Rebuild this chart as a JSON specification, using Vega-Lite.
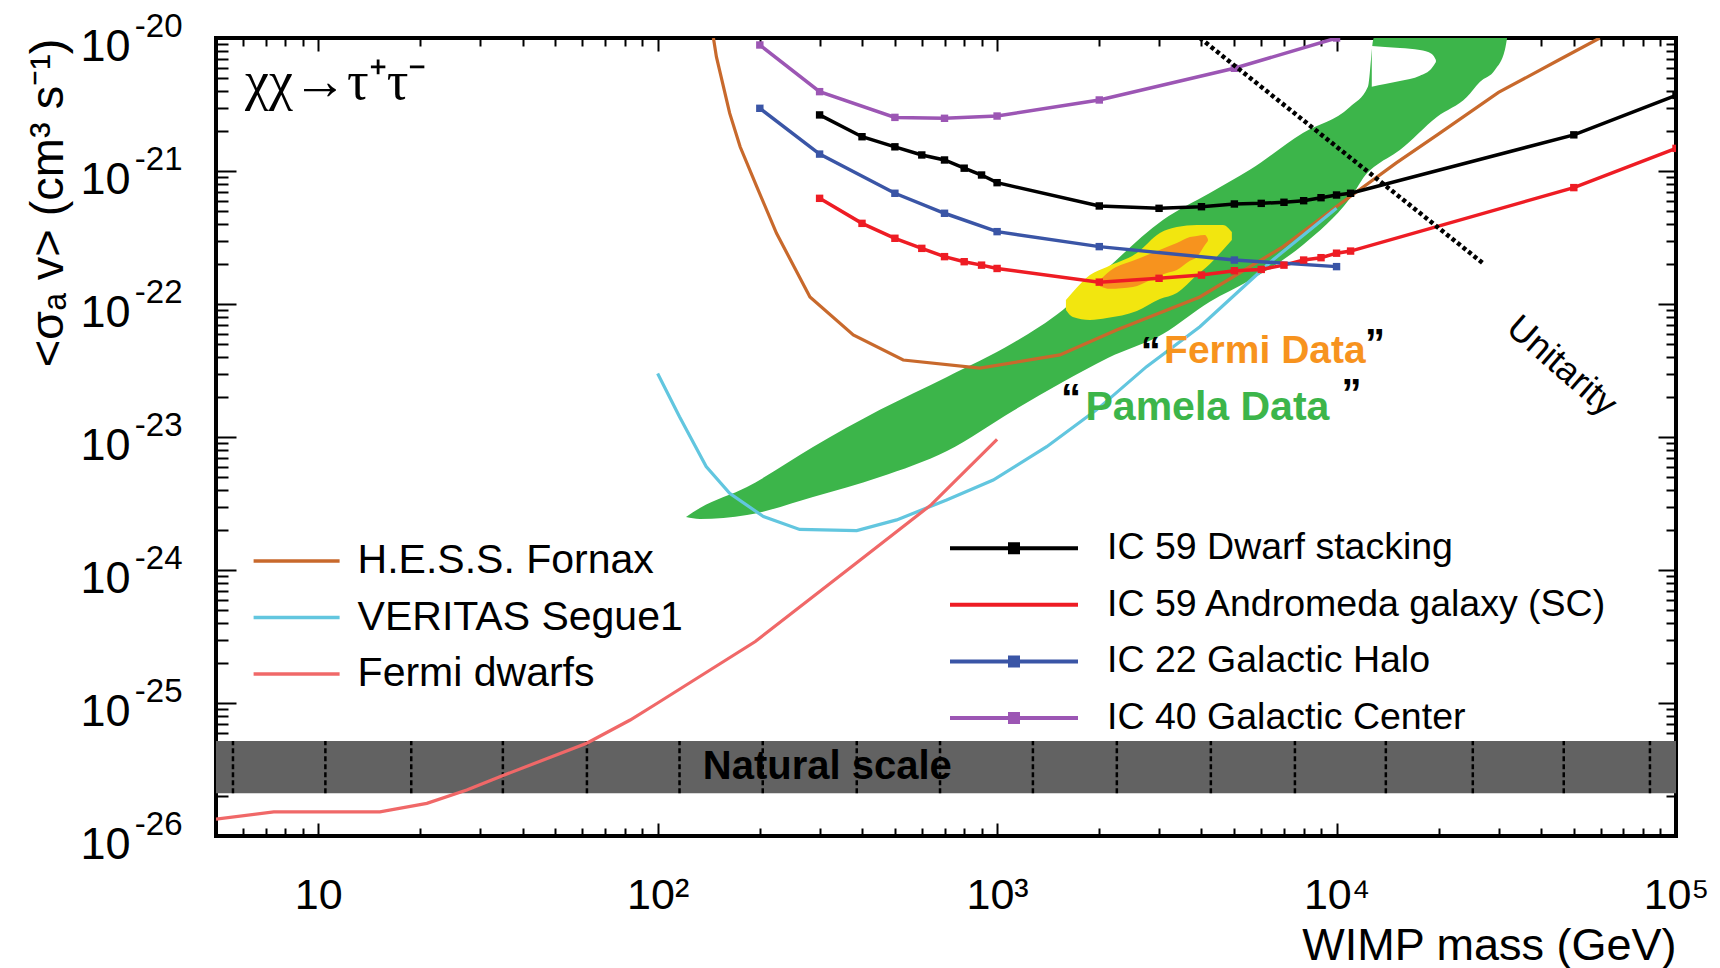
{
  "$schema": "https://vega.github.io/schema/vega-lite/v6.json",
  "width": 1460,
  "height": 798,
  "autosize": {"type": "none"},
  "padding": {"left": 216, "top": 38, "right": 44, "bottom": 132},
  "background": "white",
  "config": {
    "font": "Liberation Sans",
    "view": {"stroke": "black", "strokeWidth": 4},
    "axis": {"grid": false, "domain": false, "labelFont": "Liberation Sans", "titleFont": "Liberation Sans", "labelColor": "black", "titleColor": "black", "tickColor": "black", "tickWidth": 2, "labelOverlap": false, "labelFlush": false, "labelBound": false},
    "legend": {"labelFont": "Liberation Sans", "labelColor": "black"}
  },
  "datasets": {
    "gamma": [
      {"s": "H.E.S.S. Fornax", "m": 146, "v": 1e-20},
      {"s": "H.E.S.S. Fornax", "m": 149, "v": 7.2e-21},
      {"s": "H.E.S.S. Fornax", "m": 163, "v": 2.72e-21},
      {"s": "H.E.S.S. Fornax", "m": 175, "v": 1.52e-21},
      {"s": "H.E.S.S. Fornax", "m": 196, "v": 7.6e-22},
      {"s": "H.E.S.S. Fornax", "m": 224, "v": 3.4e-22},
      {"s": "H.E.S.S. Fornax", "m": 281, "v": 1.13e-22},
      {"s": "H.E.S.S. Fornax", "m": 377, "v": 5.85e-23},
      {"s": "H.E.S.S. Fornax", "m": 529, "v": 3.79e-23},
      {"s": "H.E.S.S. Fornax", "m": 890, "v": 3.3e-23},
      {"s": "H.E.S.S. Fornax", "m": 1531, "v": 4.14e-23},
      {"s": "H.E.S.S. Fornax", "m": 2249, "v": 6.38e-23},
      {"s": "H.E.S.S. Fornax", "m": 3958, "v": 1.13e-22},
      {"s": "H.E.S.S. Fornax", "m": 6963, "v": 2.7e-22},
      {"s": "H.E.S.S. Fornax", "m": 10000, "v": 5.4e-22},
      {"s": "H.E.S.S. Fornax", "m": 15000, "v": 1.15e-21},
      {"s": "H.E.S.S. Fornax", "m": 20000, "v": 1.9e-21},
      {"s": "H.E.S.S. Fornax", "m": 30000, "v": 3.9e-21},
      {"s": "H.E.S.S. Fornax", "m": 45000, "v": 6.8e-21},
      {"s": "H.E.S.S. Fornax", "m": 59630, "v": 1e-20},
      {"s": "VERITAS Segue1", "m": 100, "v": 3.0e-23},
      {"s": "VERITAS Segue1", "m": 116, "v": 1.42e-23},
      {"s": "VERITAS Segue1", "m": 139, "v": 6.0e-24},
      {"s": "VERITAS Segue1", "m": 163, "v": 3.77e-24},
      {"s": "VERITAS Segue1", "m": 205, "v": 2.52e-24},
      {"s": "VERITAS Segue1", "m": 262, "v": 2.02e-24},
      {"s": "VERITAS Segue1", "m": 386, "v": 1.98e-24},
      {"s": "VERITAS Segue1", "m": 506, "v": 2.38e-24},
      {"s": "VERITAS Segue1", "m": 710, "v": 3.36e-24},
      {"s": "VERITAS Segue1", "m": 974, "v": 4.75e-24},
      {"s": "VERITAS Segue1", "m": 1400, "v": 8.45e-24},
      {"s": "VERITAS Segue1", "m": 1964, "v": 1.6e-23},
      {"s": "VERITAS Segue1", "m": 2756, "v": 3.38e-23},
      {"s": "VERITAS Segue1", "m": 3958, "v": 6.75e-23},
      {"s": "VERITAS Segue1", "m": 6500, "v": 2.15e-22},
      {"s": "VERITAS Segue1", "m": 10000, "v": 5.24e-22},
      {"s": "Fermi dwarfs", "m": 5, "v": 1.34e-26},
      {"s": "Fermi dwarfs", "m": 7.4, "v": 1.52e-26},
      {"s": "Fermi dwarfs", "m": 15.2, "v": 1.52e-26},
      {"s": "Fermi dwarfs", "m": 20.9, "v": 1.76e-26},
      {"s": "Fermi dwarfs", "m": 27.4, "v": 2.22e-26},
      {"s": "Fermi dwarfs", "m": 34.3, "v": 2.79e-26},
      {"s": "Fermi dwarfs", "m": 61.8, "v": 4.98e-26},
      {"s": "Fermi dwarfs", "m": 83, "v": 7.45e-26},
      {"s": "Fermi dwarfs", "m": 100, "v": 1.0e-25},
      {"s": "Fermi dwarfs", "m": 194, "v": 2.9e-25},
      {"s": "Fermi dwarfs", "m": 380, "v": 1.1e-24},
      {"s": "Fermi dwarfs", "m": 640, "v": 3.1e-24},
      {"s": "Fermi dwarfs", "m": 1000, "v": 9.6e-24}
    ],
    "ic": [
      {"s": "IC 59 Dwarf stacking", "m": 300, "v": 2.64e-21},
      {"s": "IC 59 Dwarf stacking", "m": 400, "v": 1.81e-21},
      {"s": "IC 59 Dwarf stacking", "m": 500, "v": 1.52e-21},
      {"s": "IC 59 Dwarf stacking", "m": 600, "v": 1.32e-21},
      {"s": "IC 59 Dwarf stacking", "m": 700, "v": 1.21e-21},
      {"s": "IC 59 Dwarf stacking", "m": 800, "v": 1.05e-21},
      {"s": "IC 59 Dwarf stacking", "m": 900, "v": 9.33e-22},
      {"s": "IC 59 Dwarf stacking", "m": 1000, "v": 8.17e-22},
      {"s": "IC 59 Dwarf stacking", "m": 2000, "v": 5.46e-22},
      {"s": "IC 59 Dwarf stacking", "m": 3000, "v": 5.24e-22},
      {"s": "IC 59 Dwarf stacking", "m": 4000, "v": 5.39e-22},
      {"s": "IC 59 Dwarf stacking", "m": 5000, "v": 5.65e-22},
      {"s": "IC 59 Dwarf stacking", "m": 6000, "v": 5.71e-22},
      {"s": "IC 59 Dwarf stacking", "m": 7000, "v": 5.82e-22},
      {"s": "IC 59 Dwarf stacking", "m": 8000, "v": 5.98e-22},
      {"s": "IC 59 Dwarf stacking", "m": 9000, "v": 6.3e-22},
      {"s": "IC 59 Dwarf stacking", "m": 10000, "v": 6.6e-22},
      {"s": "IC 59 Dwarf stacking", "m": 11000, "v": 6.8e-22},
      {"s": "IC 59 Dwarf stacking", "m": 50000, "v": 1.87e-21},
      {"s": "IC 59 Dwarf stacking", "m": 100000, "v": 3.7e-21},
      {"s": "IC 59 Andromeda galaxy (SC)", "m": 300, "v": 6.23e-22},
      {"s": "IC 59 Andromeda galaxy (SC)", "m": 400, "v": 4.04e-22},
      {"s": "IC 59 Andromeda galaxy (SC)", "m": 500, "v": 3.12e-22},
      {"s": "IC 59 Andromeda galaxy (SC)", "m": 600, "v": 2.62e-22},
      {"s": "IC 59 Andromeda galaxy (SC)", "m": 700, "v": 2.27e-22},
      {"s": "IC 59 Andromeda galaxy (SC)", "m": 800, "v": 2.08e-22},
      {"s": "IC 59 Andromeda galaxy (SC)", "m": 900, "v": 1.96e-22},
      {"s": "IC 59 Andromeda galaxy (SC)", "m": 1000, "v": 1.85e-22},
      {"s": "IC 59 Andromeda galaxy (SC)", "m": 2000, "v": 1.46e-22},
      {"s": "IC 59 Andromeda galaxy (SC)", "m": 3000, "v": 1.56e-22},
      {"s": "IC 59 Andromeda galaxy (SC)", "m": 4000, "v": 1.65e-22},
      {"s": "IC 59 Andromeda galaxy (SC)", "m": 5000, "v": 1.78e-22},
      {"s": "IC 59 Andromeda galaxy (SC)", "m": 6000, "v": 1.82e-22},
      {"s": "IC 59 Andromeda galaxy (SC)", "m": 7000, "v": 1.96e-22},
      {"s": "IC 59 Andromeda galaxy (SC)", "m": 8000, "v": 2.14e-22},
      {"s": "IC 59 Andromeda galaxy (SC)", "m": 9000, "v": 2.23e-22},
      {"s": "IC 59 Andromeda galaxy (SC)", "m": 10000, "v": 2.41e-22},
      {"s": "IC 59 Andromeda galaxy (SC)", "m": 11000, "v": 2.5e-22},
      {"s": "IC 59 Andromeda galaxy (SC)", "m": 50000, "v": 7.5e-22},
      {"s": "IC 59 Andromeda galaxy (SC)", "m": 100000, "v": 1.48e-21},
      {"s": "IC 22 Galactic Halo", "m": 200, "v": 2.96e-21},
      {"s": "IC 22 Galactic Halo", "m": 300, "v": 1.34e-21},
      {"s": "IC 22 Galactic Halo", "m": 500, "v": 6.8e-22},
      {"s": "IC 22 Galactic Halo", "m": 700, "v": 4.81e-22},
      {"s": "IC 22 Galactic Halo", "m": 1000, "v": 3.5e-22},
      {"s": "IC 22 Galactic Halo", "m": 2000, "v": 2.7e-22},
      {"s": "IC 22 Galactic Halo", "m": 5000, "v": 2.14e-22},
      {"s": "IC 22 Galactic Halo", "m": 10000, "v": 1.91e-22},
      {"s": "IC 40 Galactic Center", "m": 200, "v": 8.86e-21},
      {"s": "IC 40 Galactic Center", "m": 300, "v": 3.95e-21},
      {"s": "IC 40 Galactic Center", "m": 500, "v": 2.53e-21},
      {"s": "IC 40 Galactic Center", "m": 700, "v": 2.49e-21},
      {"s": "IC 40 Galactic Center", "m": 1000, "v": 2.59e-21},
      {"s": "IC 40 Galactic Center", "m": 2000, "v": 3.42e-21},
      {"s": "IC 40 Galactic Center", "m": 5000, "v": 5.92e-21},
      {"s": "IC 40 Galactic Center", "m": 10000, "v": 1e-20}
    ],
    "regions": [
      {"r": "Pamela", "m": 121.2, "v": 2.5e-24, "v2": 2.5e-24},
      {"r": "Pamela", "m": 133.2, "v": 2.42e-24, "v2": 2.92e-24},
      {"r": "Pamela", "m": 183.3, "v": 2.59e-24, "v2": 4.21e-24},
      {"r": "Pamela", "m": 286.8, "v": 3.54e-24, "v2": 8.41e-24},
      {"r": "Pamela", "m": 451.6, "v": 5.0e-24, "v2": 1.6e-23},
      {"r": "Pamela", "m": 711.7, "v": 7.85e-24, "v2": 2.83e-23},
      {"r": "Pamela", "m": 1113, "v": 1.57e-23, "v2": 5.09e-23},
      {"r": "Pamela", "m": 1562, "v": 2.59e-23, "v2": 9.02e-23},
      {"r": "Pamela", "m": 2120, "v": 3.93e-23, "v2": 1.87e-22},
      {"r": "Pamela", "m": 3079, "v": 5.95e-23, "v2": 4.28e-22},
      {"r": "Pamela", "m": 4234, "v": 1.04e-22, "v2": 6.84e-22},
      {"r": "Pamela", "m": 5553, "v": 1.51e-22, "v2": 1.02e-21},
      {"r": "Pamela", "m": 7958, "v": 2.78e-22, "v2": 1.93e-21},
      {"r": "Pamela", "m": 10944, "v": 6.2e-22, "v2": 3.03e-21},
      {"r": "Pamela", "m": 12370, "v": 9.8e-22, "v2": 4.3e-21},
      {"r": "Pamela", "m": 12880, "v": 1.07e-21, "v2": 1e-20},
      {"r": "Pamela", "m": 15366, "v": 1.44e-21, "v2": 1e-20},
      {"r": "Pamela", "m": 19750, "v": 2.55e-21, "v2": 1e-20},
      {"r": "Pamela", "m": 24200, "v": 3.6e-21, "v2": 1e-20},
      {"r": "Pamela", "m": 26430, "v": 4.67e-21, "v2": 1e-20},
      {"r": "Pamela", "m": 29270, "v": 5.75e-21, "v2": 1e-20},
      {"r": "Pamela", "m": 31320, "v": 8.12e-21, "v2": 1e-20},
      {"r": "Pamela", "m": 31800, "v": 1e-20, "v2": 1e-20},
      {"r": "notch", "m": 12700, "v": 4.3e-21, "v2": 8.7e-21},
      {"r": "notch", "m": 13900, "v": 4.5e-21, "v2": 8.56e-21},
      {"r": "notch", "m": 15370, "v": 4.75e-21, "v2": 8.41e-21},
      {"r": "notch", "m": 17600, "v": 5.2e-21, "v2": 8.12e-21},
      {"r": "notch", "m": 19090, "v": 5.95e-21, "v2": 7.58e-21},
      {"r": "notch", "m": 19620, "v": 6.6e-21, "v2": 6.84e-21},
      {"r": "FermiOuter", "m": 1595, "v": 9.02e-23, "v2": 1.07e-22},
      {"r": "FermiOuter", "m": 1672, "v": 7.98e-23, "v2": 1.23e-22},
      {"r": "FermiOuter", "m": 1877, "v": 7.58e-23, "v2": 1.65e-22},
      {"r": "FermiOuter", "m": 2106, "v": 7.85e-23, "v2": 1.9e-22},
      {"r": "FermiOuter", "m": 2581, "v": 8.86e-23, "v2": 2.42e-22},
      {"r": "FermiOuter", "m": 3017, "v": 1.09e-22, "v2": 3.42e-22},
      {"r": "FermiOuter", "m": 3384, "v": 1.21e-22, "v2": 3.79e-22},
      {"r": "FermiOuter", "m": 3878, "v": 1.65e-22, "v2": 3.93e-22},
      {"r": "FermiOuter", "m": 4234, "v": 2.0e-22, "v2": 3.93e-22},
      {"r": "FermiOuter", "m": 4627, "v": 2.55e-22, "v2": 3.93e-22},
      {"r": "FermiOuter", "m": 4916, "v": 3.03e-22, "v2": 3.48e-22},
      {"r": "FermiInner", "m": 2009, "v": 1.36e-22, "v2": 1.51e-22},
      {"r": "FermiInner", "m": 2149, "v": 1.3e-22, "v2": 1.77e-22},
      {"r": "FermiInner", "m": 2512, "v": 1.34e-22, "v2": 2.11e-22},
      {"r": "FermiInner", "m": 2819, "v": 1.51e-22, "v2": 2.38e-22},
      {"r": "FermiInner", "m": 3164, "v": 1.71e-22, "v2": 2.68e-22},
      {"r": "FermiInner", "m": 3384, "v": 1.8e-22, "v2": 2.87e-22},
      {"r": "FermiInner", "m": 3698, "v": 2.11e-22, "v2": 3.19e-22},
      {"r": "FermiInner", "m": 3878, "v": 2.26e-22, "v2": 3.25e-22},
      {"r": "FermiInner", "m": 4094, "v": 2.78e-22, "v2": 3.3e-22},
      {"r": "FermiInner", "m": 4178, "v": 2.98e-22, "v2": 3.08e-22}
    ],
    "natural": [
      {"m": 5, "v": 2.1e-26, "v2": 5.18e-26},
      {"m": 100000, "v": 2.1e-26, "v2": 5.18e-26}
    ],
    "hatch": [
      {"m": 5.61, "v": 2.1e-26, "v2": 5.18e-26},
      {"m": 10.5, "v": 2.1e-26, "v2": 5.18e-26},
      {"m": 18.8, "v": 2.1e-26, "v2": 5.18e-26},
      {"m": 35.0, "v": 2.1e-26, "v2": 5.18e-26},
      {"m": 61.9, "v": 2.1e-26, "v2": 5.18e-26},
      {"m": 116, "v": 2.1e-26, "v2": 5.18e-26},
      {"m": 204, "v": 2.1e-26, "v2": 5.18e-26},
      {"m": 386, "v": 2.1e-26, "v2": 5.18e-26},
      {"m": 679, "v": 2.1e-26, "v2": 5.18e-26},
      {"m": 1275, "v": 2.1e-26, "v2": 5.18e-26},
      {"m": 2253, "v": 2.1e-26, "v2": 5.18e-26},
      {"m": 4263, "v": 2.1e-26, "v2": 5.18e-26},
      {"m": 7540, "v": 2.1e-26, "v2": 5.18e-26},
      {"m": 13970, "v": 2.1e-26, "v2": 5.18e-26},
      {"m": 25200, "v": 2.1e-26, "v2": 5.18e-26},
      {"m": 46700, "v": 2.1e-26, "v2": 5.18e-26},
      {"m": 83800, "v": 2.1e-26, "v2": 5.18e-26}
    ],
    "unitarity": [
      {"m": 3958, "v": 1e-20},
      {"m": 27030, "v": 2.02e-22}
    ],
    "notes": [
      {"k": "chan", "t": "χχ→τ⁺τ⁻", "m": 6.09, "v": 3.5e-21},
      {"k": "nat", "t": "Natural scale", "m": 316, "v": 3.3e-26},
      {"k": "fermi", "t": "Fermi Data", "m": 6150, "v": 3.6e-23},
      {"k": "pamela", "t": "Pamela Data", "m": 4165, "v": 1.34e-23},
      {"k": "quote", "t": "“", "m": 2838, "v": 3.48e-23},
      {"k": "quote", "t": "”", "m": 12970, "v": 4.0e-23},
      {"k": "quote", "t": "“", "m": 1650, "v": 1.54e-23},
      {"k": "quote", "t": "”", "m": 11060, "v": 1.68e-23},
      {"k": "unit", "t": "Unitarity", "m": 46100, "v": 3.42e-23}
    ]
  },
  "resolve": {"axis": {"x": "independent", "y": "independent"}},
  "encoding": {
    "x": {"field": "m", "type": "quantitative", "scale": {"type": "log", "domain": [5, 100000], "nice": false}, "axis": null},
    "y": {"field": "v", "type": "quantitative", "scale": {"type": "log", "domain": [1e-26, 1e-20], "nice": false}, "axis": null}
  },
  "layer": [
    {
      "data": {"name": "natural"},
      "mark": {"type": "area", "color": "#626262", "clip": true},
      "encoding": {
        "y": {"field": "v", "type": "quantitative", "scale": {"type": "log", "domain": [1e-26, 1e-20], "nice": false},
              "axis": {"orient": "left", "values": [1e-26, 1e-25, 1e-24, 1e-23, 1e-22, 1e-21, 1e-20], "ticks": false, "tickSize": 0,
                       "labelExpr": "['-26','-25','-24','-23','-22','-21','-20'][round(log(datum.value)/LN10)+26]",
                       "labelFontSize": 33, "labelPadding": 34, "labelBaseline": "alphabetic", "labelOffset": -2, "labelAlign": "right", "title": null}},
        "y2": {"field": "v2"}
      }
    },
    {
      "data": {"name": "hatch"},
      "mark": {"type": "rule", "color": "black", "strokeWidth": 2.5, "strokeDash": [5, 3]},
      "encoding": {"y2": {"field": "v2"}}
    },
    {
      "data": {"name": "notes"},
      "transform": [{"filter": "datum.k === 'nat'"}],
      "mark": {"type": "text", "font": "Liberation Sans", "fontWeight": "bold", "fontSize": 40, "color": "black", "align": "center", "baseline": "middle"},
      "encoding": {"text": {"field": "t"}}
    },
    {
      "data": {"name": "regions"},
      "transform": [{"filter": "datum.r === 'Pamela'"}],
      "mark": {"type": "area", "color": "#3cb54a", "interpolate": "monotone", "clip": true},
      "encoding": {
        "x": {"field": "m", "type": "quantitative", "scale": {"type": "log", "domain": [5, 100000], "nice": false},
              "axis": {"orient": "top", "values": [6,7,8,9,20,30,40,50,60,70,80,90,200,300,400,500,600,700,800,900,2000,3000,4000,5000,6000,7000,8000,9000,20000,30000,40000,50000,60000,70000,80000,90000], "labels": false, "tickSize": -8, "title": null}},
        "y": {"field": "v", "type": "quantitative", "scale": {"type": "log", "domain": [1e-26, 1e-20], "nice": false},
              "axis": {"orient": "right", "values": [2e-26,3e-26,4e-26,5e-26,6e-26,7e-26,8e-26,9e-26,2e-25,3e-25,4e-25,5e-25,6e-25,7e-25,8e-25,9e-25,2e-24,3e-24,4e-24,5e-24,6e-24,7e-24,8e-24,9e-24,2e-23,3e-23,4e-23,5e-23,6e-23,7e-23,8e-23,9e-23,2e-22,3e-22,4e-22,5e-22,6e-22,7e-22,8e-22,9e-22,2e-21,3e-21,4e-21,5e-21,6e-21,7e-21,8e-21,9e-21], "labels": false, "tickSize": -10, "title": null}},
        "y2": {"field": "v2"}
      }
    },
    {
      "data": {"name": "regions"},
      "transform": [{"filter": "datum.r === 'notch'"}],
      "mark": {"type": "area", "color": "#ffffff", "interpolate": "monotone", "clip": true},
      "encoding": {"y2": {"field": "v2"}}
    },
    {
      "data": {"name": "regions"},
      "transform": [{"filter": "datum.r === 'FermiOuter'"}],
      "mark": {"type": "area", "color": "#f2e60f", "interpolate": "monotone", "clip": true},
      "encoding": {"y2": {"field": "v2"}}
    },
    {
      "data": {"name": "regions"},
      "transform": [{"filter": "datum.r === 'FermiInner'"}],
      "mark": {"type": "area", "color": "#f7931e", "interpolate": "monotone", "clip": true},
      "encoding": {"y2": {"field": "v2"}}
    },
    {
      "data": {"name": "gamma"},
      "mark": {"type": "line", "strokeWidth": 3.2, "clip": true},
      "encoding": {
        "x": {"field": "m", "type": "quantitative", "scale": {"type": "log", "domain": [5, 100000], "nice": false},
              "axis": {"orient": "bottom", "values": [10, 100, 1000, 10000, 100000], "ticks": false, "tickSize": 0,
                       "labelExpr": "['','10','10²','10³','10⁴','10⁵'][round(log(datum.value)/LN10)]",
                       "labelFontSize": 43, "labelPadding": 72, "labelBaseline": "alphabetic", "labelAlign": "center",
                       "title": "WIMP mass (GeV)", "titleFontSize": 45, "titleFontWeight": "normal", "titleAnchor": "end", "titleAlign": "right", "titleBaseline": "alphabetic", "titleX": 1460, "titleY": 123}},
        "y": {"field": "v", "type": "quantitative", "scale": {"type": "log", "domain": [1e-26, 1e-20], "nice": false},
              "axis": {"orient": "left", "values": [1e-26, 1e-25, 1e-24, 1e-23, 1e-22, 1e-21, 1e-20], "ticks": false, "tickSize": 0,
                       "labelExpr": "'10'",
                       "labelFontSize": 45, "labelPadding": 86, "labelBaseline": "alphabetic", "labelOffset": 22, "labelAlign": "right",
                       "title": "<σₐ v> (cm³ s⁻¹)", "titleFontSize": 47, "titleFontWeight": "normal", "titleAngle": 270, "titleAnchor": "end", "titleAlign": "right", "titleBaseline": "alphabetic", "titleX": -154, "titleY": 0}},
        "stroke": {"field": "s", "type": "nominal",
                   "scale": {"domain": ["H.E.S.S. Fornax", "VERITAS Segue1", "Fermi dwarfs"], "range": ["#c8692c", "#62c6df", "#f06868"]},
                   "legend": {"orient": "none", "legendX": 60.1, "legendY": 502.5, "title": null, "direction": "vertical",
                              "symbolType": "M-4,0H4", "symbolSize": 462.25, "symbolStrokeWidth": 3.5,
                              "labelFontSize": 41, "labelOffset": 40.5, "rowPadding": 14.5, "padding": 0, "labelLimit": 1000}}
      }
    },
    {
      "data": {"name": "ic"},
      "mark": {"type": "line", "strokeWidth": 3.5, "clip": true},
      "encoding": {
        "x": {"field": "m", "type": "quantitative", "scale": {"type": "log", "domain": [5, 100000], "nice": false},
              "axis": {"orient": "bottom", "values": [10, 100, 1000, 10000, 100000], "labels": false, "tickSize": -13, "title": null}},
        "y": {"field": "v", "type": "quantitative", "scale": {"type": "log", "domain": [1e-26, 1e-20], "nice": false},
              "axis": {"orient": "left", "values": [1e-26, 1e-25, 1e-24, 1e-23, 1e-22, 1e-21, 1e-20], "labels": false, "tickSize": -20, "title": null}},
        "color": {"field": "s", "type": "nominal",
                  "scale": {"domain": ["IC 59 Dwarf stacking", "IC 59 Andromeda galaxy (SC)", "IC 22 Galactic Halo", "IC 40 Galactic Center"], "range": ["#000000", "#ee1c24", "#3a55a6", "#9c56b4"]},
                  "legend": {"orient": "none", "legendX": 779.25, "legendY": 491.5, "title": null, "direction": "vertical",
                             "symbolType": "M-4,0H4M-0.25,-0.25H0.25V0.25H-0.25ZM-0.1,-0.1H0.1V0.1H-0.1Z", "symbolSize": 1024, "symbolStrokeWidth": 4,
                             "labelFontSize": 37.5, "labelOffset": 74.25, "rowPadding": 17.6, "padding": 0, "labelLimit": 1000,
                             "encode": {"symbols": {"update": {"shape": {"signal": "datum.label === 'IC 59 Andromeda galaxy (SC)' ? 'M-4,0H4' : 'M-4,0H4M-0.25,-0.25H0.25V0.25H-0.25ZM-0.1,-0.1H0.1V0.1H-0.1Z'"}}}}}}
      }
    },
    {
      "data": {"name": "ic"},
      "mark": {"type": "point", "shape": "square", "filled": true, "size": 55, "opacity": 1, "clip": true},
      "encoding": {
        "x": {"field": "m", "type": "quantitative", "scale": {"type": "log", "domain": [5, 100000], "nice": false},
              "axis": {"orient": "bottom", "values": [6,7,8,9,20,30,40,50,60,70,80,90,200,300,400,500,600,700,800,900,2000,3000,4000,5000,6000,7000,8000,9000,20000,30000,40000,50000,60000,70000,80000,90000], "labels": false, "tickSize": -8, "title": null}},
        "y": {"field": "v", "type": "quantitative", "scale": {"type": "log", "domain": [1e-26, 1e-20], "nice": false},
              "axis": {"orient": "left", "values": [2e-26,3e-26,4e-26,5e-26,6e-26,7e-26,8e-26,9e-26,2e-25,3e-25,4e-25,5e-25,6e-25,7e-25,8e-25,9e-25,2e-24,3e-24,4e-24,5e-24,6e-24,7e-24,8e-24,9e-24,2e-23,3e-23,4e-23,5e-23,6e-23,7e-23,8e-23,9e-23,2e-22,3e-22,4e-22,5e-22,6e-22,7e-22,8e-22,9e-22,2e-21,3e-21,4e-21,5e-21,6e-21,7e-21,8e-21,9e-21], "labels": false, "tickSize": -12, "title": null}},
        "color": {"field": "s", "type": "nominal", "legend": null}
      }
    },
    {
      "data": {"name": "unitarity"},
      "mark": {"type": "line", "color": "black", "strokeWidth": 4.5, "strokeDash": [4, 3], "strokeCap": "butt", "clip": true},
      "encoding": {
        "x": {"field": "m", "type": "quantitative", "scale": {"type": "log", "domain": [5, 100000], "nice": false},
              "axis": {"orient": "top", "values": [10, 100, 1000, 10000, 100000], "labels": false, "tickSize": -13, "title": null}},
        "y": {"field": "v", "type": "quantitative", "scale": {"type": "log", "domain": [1e-26, 1e-20], "nice": false},
              "axis": {"orient": "right", "values": [1e-26, 1e-25, 1e-24, 1e-23, 1e-22, 1e-21, 1e-20], "labels": false, "tickSize": -18, "title": null}}
      }
    },
    {
      "data": {"name": "notes"},
      "transform": [{"filter": "datum.k === 'chan'"}],
      "mark": {"type": "text", "font": "Liberation Serif", "fontSize": 54, "color": "black", "align": "left", "baseline": "alphabetic"},
      "encoding": {"text": {"field": "t"}}
    },
    {
      "data": {"name": "notes"},
      "transform": [{"filter": "datum.k === 'fermi'"}],
      "mark": {"type": "text", "font": "Liberation Sans", "fontWeight": "bold", "fontSize": 39, "color": "#f7931e", "align": "center", "baseline": "alphabetic"},
      "encoding": {"text": {"field": "t"}}
    },
    {
      "data": {"name": "notes"},
      "transform": [{"filter": "datum.k === 'pamela'"}],
      "mark": {"type": "text", "font": "Liberation Sans", "fontWeight": "bold", "fontSize": 41, "color": "#3cb54a", "align": "center", "baseline": "alphabetic"},
      "encoding": {"text": {"field": "t"}}
    },
    {
      "data": {"name": "notes"},
      "transform": [{"filter": "datum.k === 'quote'"}],
      "mark": {"type": "text", "font": "Liberation Sans", "fontWeight": "bold", "fontSize": 40, "color": "black", "align": "center", "baseline": "alphabetic"},
      "encoding": {"text": {"field": "t"}}
    },
    {
      "data": {"name": "notes"},
      "transform": [{"filter": "datum.k === 'unit'"}],
      "mark": {"type": "text", "font": "Liberation Sans", "fontSize": 36, "color": "black", "align": "center", "baseline": "middle", "angle": 41},
      "encoding": {"text": {"field": "t"}}
    }
  ]
}
